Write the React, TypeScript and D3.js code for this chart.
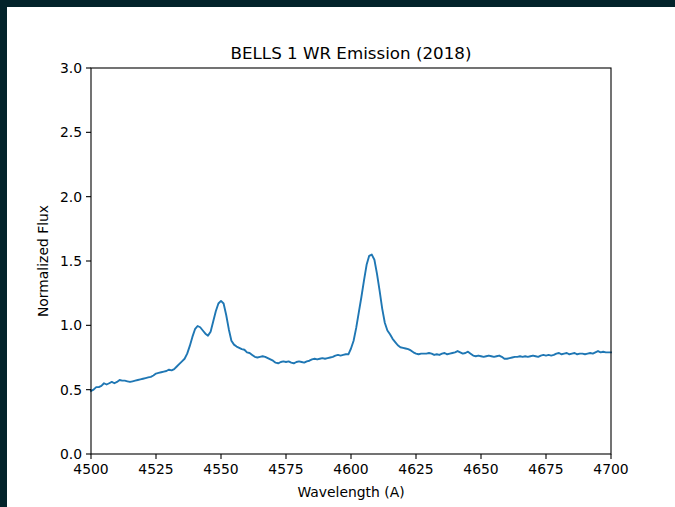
import React from "react";
import * as d3 from "d3";

// Spectrum sampled on a 1 Å grid from 4500 to 4700 Å
const WL_START = 4500;
const flux: number[] = [
  0.49, 0.50, 0.52, 0.52, 0.53, 0.55, 0.54, 0.55, 0.56, 0.55,
  0.56, 0.575, 0.57, 0.57, 0.565, 0.56, 0.565, 0.57, 0.575, 0.58,
  0.585, 0.59, 0.595, 0.60, 0.61, 0.625, 0.63, 0.635, 0.64, 0.645,
  0.655, 0.65, 0.66, 0.68, 0.70, 0.72, 0.74, 0.78, 0.84, 0.91,
  0.97, 0.995, 0.985, 0.96, 0.935, 0.92, 0.95, 1.03, 1.11, 1.17,
  1.19, 1.17, 1.08, 0.97, 0.88, 0.85, 0.835, 0.825, 0.815, 0.81,
  0.79, 0.785, 0.77, 0.755, 0.75, 0.755, 0.76, 0.755, 0.745, 0.735,
  0.725, 0.71, 0.705, 0.715, 0.72, 0.715, 0.72, 0.71, 0.705, 0.715,
  0.72, 0.715, 0.71, 0.72, 0.725, 0.735, 0.74, 0.735, 0.74, 0.745,
  0.74, 0.745, 0.75, 0.755, 0.765, 0.77, 0.765, 0.77, 0.775, 0.775,
  0.82, 0.88, 0.98, 1.10, 1.22, 1.35, 1.47, 1.54, 1.55, 1.51,
  1.40, 1.27, 1.13, 1.02, 0.96, 0.93, 0.895, 0.87, 0.845, 0.83,
  0.825, 0.82, 0.815, 0.805, 0.79, 0.78, 0.775, 0.78, 0.78, 0.78,
  0.785, 0.78, 0.77, 0.775, 0.77, 0.78, 0.785, 0.775, 0.78, 0.785,
  0.79, 0.80, 0.79, 0.78, 0.785, 0.795, 0.78, 0.765, 0.76, 0.765,
  0.76, 0.755, 0.76, 0.765, 0.76, 0.755, 0.76, 0.765, 0.755, 0.74,
  0.74, 0.745, 0.75, 0.755, 0.755, 0.76, 0.755, 0.76, 0.755, 0.76,
  0.765, 0.76, 0.755, 0.765, 0.77, 0.765, 0.77, 0.765, 0.77, 0.78,
  0.785, 0.775, 0.78, 0.785, 0.775, 0.78, 0.785, 0.775, 0.78, 0.78,
  0.775, 0.78, 0.785, 0.78, 0.79, 0.80, 0.79, 0.795, 0.79, 0.79,
  0.79,
];
const xTicks: number[] = [4500, 4525, 4550, 4575, 4600, 4625, 4650, 4675, 4700];
const yTicks: number[] = [0.0, 0.5, 1.0, 1.5, 2.0, 2.5, 3.0];

const W = 675;
const H = 507;
const M = { left: 91, right: 611, top: 68, bottom: 454 };
const FONT = "'DejaVu Sans', sans-serif";

export default function App() {
  const x = d3.scaleLinear().domain([4500, 4700]).range([M.left, M.right]);
  const y = d3.scaleLinear().domain([0, 3]).range([M.bottom, M.top]);
  const points: [number, number][] = flux.map((f, i) => [WL_START + i, f]);
  const line = d3
    .line<[number, number]>()
    .x((d) => x(d[0]))
    .y((d) => y(d[1]));

  return (
    <svg
      width={W}
      height={H}
      style={{ position: "fixed", left: 0, top: 0, display: "block" }}
    >
      <rect x={0} y={0} width={W} height={H} fill="#03232a" />
      <rect x={7} y={7} width={W - 7} height={H - 7} fill="#ffffff" />

      <path
        d={line(points) ?? ""}
        fill="none"
        stroke="#1f77b4"
        strokeWidth={1.9}
        strokeLinejoin="round"
        strokeLinecap="square"
      />

      {/* axes frame */}
      <rect
        x={M.left}
        y={M.top}
        width={M.right - M.left}
        height={M.bottom - M.top}
        fill="none"
        stroke="#000"
        strokeWidth={1.1}
      />

      {xTicks.map((t) => (
        <g key={`x${t}`}>
          <line x1={x(t)} x2={x(t)} y1={M.bottom} y2={M.bottom + 5} stroke="#000" strokeWidth={1.1} />
          <text
            x={x(t)}
            y={M.bottom + 20}
            textAnchor="middle"
            fontFamily={FONT}
            fontSize={13.9}
            fill="#000"
          >
            {t}
          </text>
        </g>
      ))}

      {yTicks.map((t) => (
        <g key={`y${t}`}>
          <line x1={M.left - 5} x2={M.left} y1={y(t)} y2={y(t)} stroke="#000" strokeWidth={1.1} />
          <text
            x={M.left - 9}
            y={y(t)}
            dy="0.36em"
            textAnchor="end"
            fontFamily={FONT}
            fontSize={13.9}
            fill="#000"
          >
            {t.toFixed(1)}
          </text>
        </g>
      ))}

      <text
        x={(M.left + M.right) / 2}
        y={59}
        textAnchor="middle"
        fontFamily={FONT}
        fontSize={16.7}
        fill="#000"
      >
        BELLS 1 WR Emission (2018)
      </text>
      <text
        x={(M.left + M.right) / 2}
        y={497}
        textAnchor="middle"
        fontFamily={FONT}
        fontSize={13.9}
        fill="#000"
      >
        Wavelength (A)
      </text>
      <text
        transform={`translate(48, ${(M.top + M.bottom) / 2}) rotate(-90)`}
        textAnchor="middle"
        fontFamily={FONT}
        fontSize={13.9}
        fill="#000"
      >
        Normalized Flux
      </text>
    </svg>
  );
}
